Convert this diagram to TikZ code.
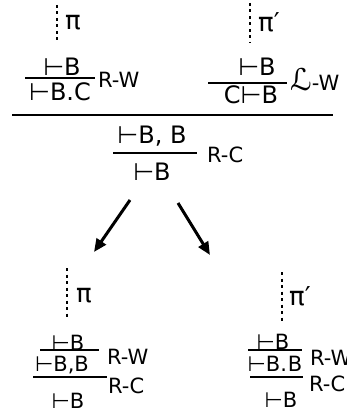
\documentclass[tikz,border=0pt]{standalone}
\usepackage{fontspec}
\setsansfont{DejaVu Sans}
\usetikzlibrary{arrows.meta}
\newcommand\seqfont{\sffamily\fontsize{24pt}{28pt}\selectfont}
\newcommand\smseqfont{\sffamily\fontsize{21pt}{24pt}\selectfont}
\newcommand\labfont{\sffamily\fontsize{21pt}{24pt}\selectfont}
\newcommand\pifont{\sffamily\fontsize{26pt}{28pt}\selectfont}
\newcommand\bigL{{\fontsize{30pt}{30pt}\selectfont ℒ}}
\begin{document}
\begin{tikzpicture}[x=1pt,y=-1pt,
  seq/.style={font=\seqfont, inner sep=0pt},
  smseq/.style={font=\smseqfont, inner sep=0pt},
  lab/.style={font=\labfont, inner sep=0pt, anchor=west},
  pname/.style={font=\pifont, inner sep=0pt},
  rule/.style={line width=1.5pt},
  dots/.style={line width=1.6pt, dash pattern=on 3pt off 3.5pt},
  bigarrow/.style={line width=3pt, -{Triangle[length=13pt,width=11pt]}}]
\useasboundingbox (0,0) rectangle (347,417);
\clip (0,0) rectangle (347,417);

% ---- upper derivation, left premise
\coordinate (tlTop) at (57,5);
\coordinate (tlBot) at (57,42);
\draw[dots] (tlTop) -- (tlBot);
\node[pname] (tlPi) at (73,23) {π};
\node[seq] (tlA) at (62,67) {⊢B};
\draw[rule] (25,78) -- (95,78);
\node[seq] (tlB) at (60,92) {⊢B.C};
\node[lab] (tlR) at (98,80) {R-W};

% ---- upper derivation, right premise
\coordinate (trTop) at (250,3);
\coordinate (trBot) at (250,43);
\draw[dots] (trTop) -- (trBot);
\node[pname] (trPi) at (269,22) {π′};
\node[seq] (trA) at (257,67) {⊢B};
\draw[rule] (208,83) -- (287,83);
\node[seq] (trB) at (251,95) {C⊢B};
\node[lab] (trR) at (290,80) {\bigL-W};

% ---- cut line and contraction
\draw[rule] (12,115) -- (333,115);
\node[seq] (mA) at (152,136) {⊢B, B};
\draw[rule] (113,153) -- (197,153);
\node[seq] (mB) at (152,172) {⊢B};
\node[lab] (mR) at (207,155) {R-C};

% ---- reduction arrows
\coordinate (aLs) at (130,200);
\coordinate (aLe) at (94,252);
\coordinate (aRs) at (178,203);
\coordinate (aRe) at (210,255);
\draw[bigarrow] (aLs) -- (aLe);
\draw[bigarrow] (aRs) -- (aRe);

% ---- lower left derivation
\coordinate (blTop) at (67,268);
\coordinate (blBot) at (67,317);
\draw[dots] (blTop) -- (blBot);
\node[pname] (blPi) at (84,296) {π};
\node[smseq] (blA) at (68,343) {⊢B};
\draw[rule] (40,350) -- (99,350);
\node[smseq] (blB) at (62,365) {⊢B,B};
\draw[rule] (33,377) -- (107,377);
\node[smseq] (blC) at (68,401) {⊢B};
\node[lab] (blR1) at (107,357) {R-W};
\node[lab] (blR2) at (108,386) {R-C};

% ---- lower right derivation
\coordinate (brTop) at (282,272);
\coordinate (brBot) at (282,322);
\draw[dots] (brTop) -- (brBot);
\node[pname] (brPi) at (300,296) {π′};
\node[smseq] (brA) at (273,342) {⊢B};
\draw[rule] (248,350) -- (302,350);
\node[smseq] (brB) at (275,364) {⊢B.\kern1pt B};
\draw[rule] (250,377) -- (303,377);
\node[smseq] (brC) at (281,400) {⊢B};
\node[lab] (brR1) at (310,358) {R-W};
\node[lab] (brR2) at (309,384) {R-C};
\end{tikzpicture}
\end{document}
